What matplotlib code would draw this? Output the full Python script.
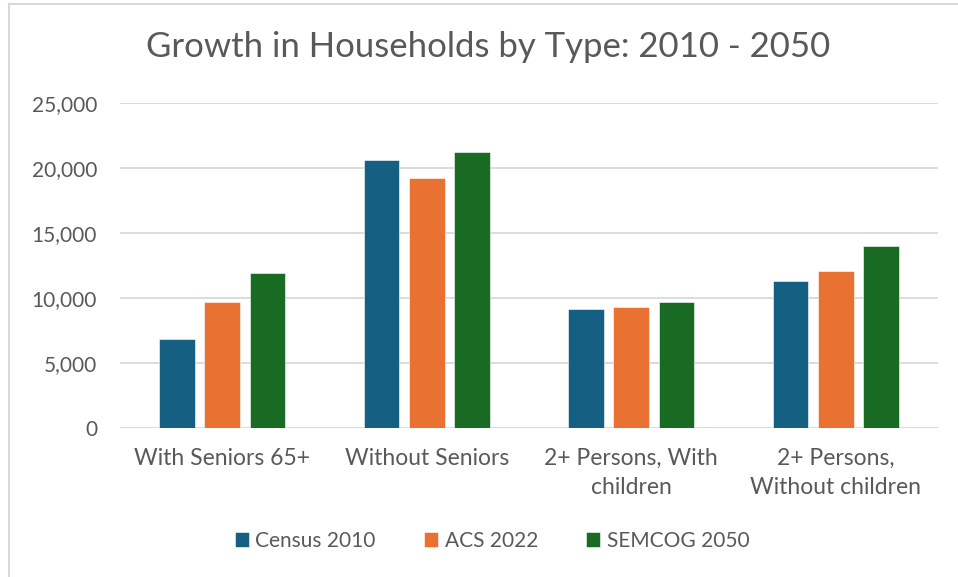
import matplotlib.pyplot as plt
import numpy as np
from matplotlib.patches import Rectangle
from matplotlib.ticker import FuncFormatter

# Data
categories = ["With Seniors 65+", "Without Seniors", "2+ Persons, With\nchildren", "2+ Persons,\nWithout children"]
census_2010 = [6900, 20650, 9150, 11330]
acs_2022 = [9700, 19250, 9300, 12080]
semcog_2050 = [11950, 21230, 9690, 14020]
series_names = ["Census 2010", "ACS 2022", "SEMCOG 2050"]
colors = ["#156082", "#E97132", "#196B24"]

plt.rcParams['font.family'] = ['Lato', 'DejaVu Sans']
text_color = "#595959"

fig = plt.figure(figsize=(9.58, 5.77), dpi=100)
ax = fig.add_axes([120/958, 1-428.3/577, 818/958, 325/577])

# frame around chart (cut off at right and bottom like the screenshot)
fig.patches.append(Rectangle((8.5/958, -0.1), 1.2, 1-4/577+0.1, transform=fig.transFigure,
                             fill=False, edgecolor="#D9D9D9", linewidth=1.5))

x = np.arange(len(categories))
width = 0.174
step = 0.222
for i, (vals, name) in enumerate(zip([census_2010, acs_2022, semcog_2050], series_names)):
    ax.bar(x + (i - 1) * step, vals, width, color=colors[i], label=name,
           edgecolor="white", linewidth=0.4, zorder=3)

ax.set_xlim(-0.5, 3.5)
ax.set_ylim(0, 25000)
ax.set_yticks(np.arange(0, 25001, 5000))
ax.yaxis.set_major_formatter(FuncFormatter(lambda v, p: f"{int(v):,}"))
ax.grid(axis='y', color="#D9D9D9", linewidth=1.3, zorder=0)
for s in ax.spines.values():
    s.set_visible(False)
ax.tick_params(axis='both', length=0, colors=text_color)
ax.tick_params(axis='y', pad=16.5, labelsize=15)
ax.tick_params(axis='x', pad=14, labelsize=16.5)
ax.set_xticks(x)
ax.set_xticklabels(categories, linespacing=1.5)

fig.text(488/958, 1-47/577, "Growth in Households by Type: 2010 - 2050", ha='center', va='center',
         fontsize=25, color=text_color)

leg = fig.legend(loc='center', bbox_to_anchor=(492/958, 1-541/577), ncol=3, frameon=False,
                 fontsize=15, handlelength=0.7, handleheight=0.7, handletextpad=0.3,
                 columnspacing=2.3, labelcolor=text_color)

fig.savefig("out.png", dpi=100)
